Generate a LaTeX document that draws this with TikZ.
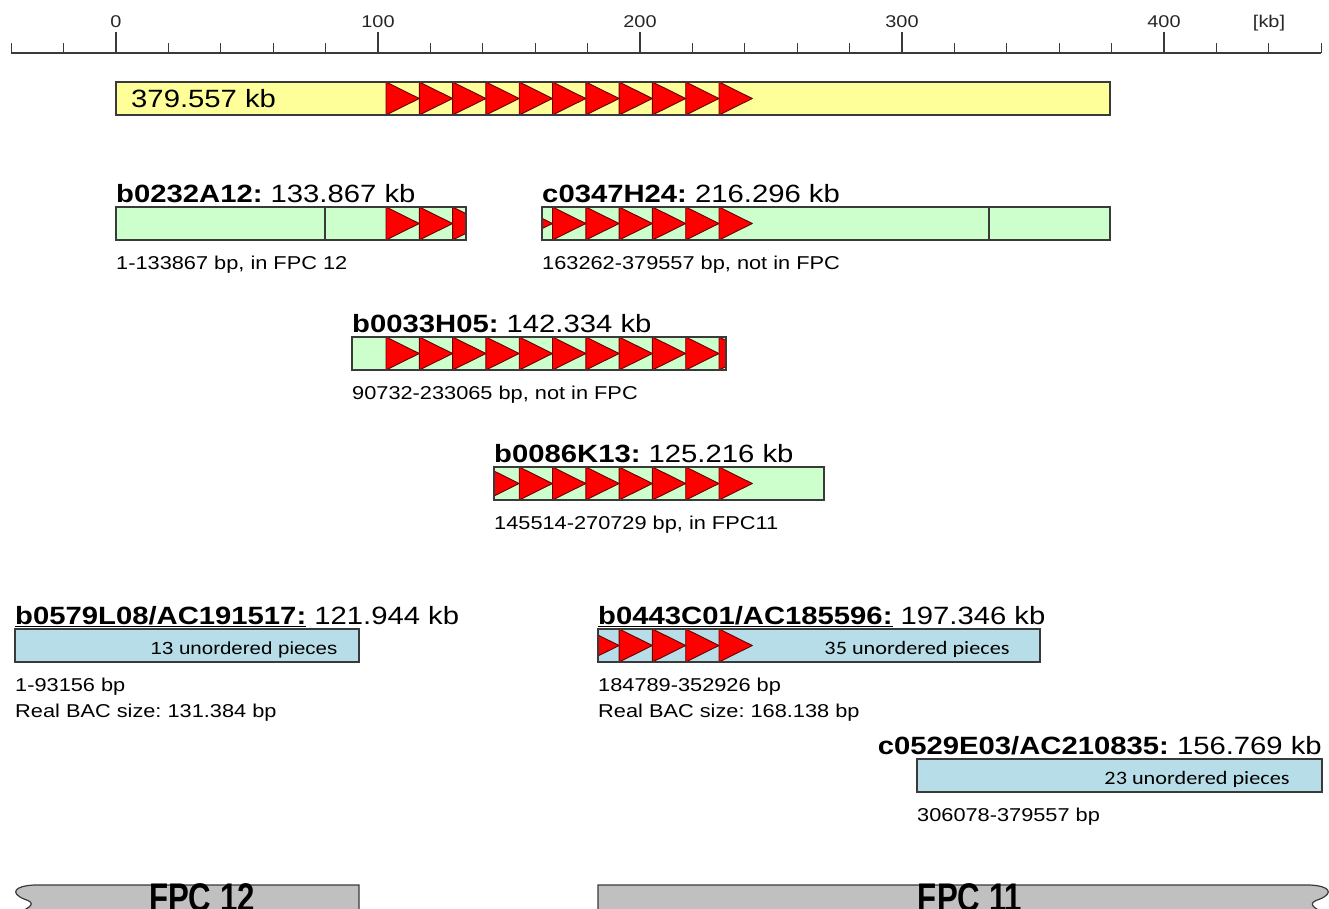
\documentclass[tikz,border=0pt]{standalone}
\usepackage{fontspec}
\setmainfont{Liberation Sans}
\newfontfamily\piecesfont{Carlito}
\usetikzlibrary{calc,positioning}
\definecolor{contigyellow}{HTML}{FFFF99}
\definecolor{bacgreen}{HTML}{CCFFCC}
\definecolor{seqblue}{HTML}{B7DEE8}
\definecolor{fpcgrey}{HTML}{C0C0C0}
\definecolor{edgegrey}{HTML}{3A3A3A}
\definecolor{repred}{HTML}{FF0000}
\frenchspacing

\tikzset{
  x=1pt, y=-1pt,
  barbox/.style={minimum height=33pt, inner sep=0pt, outer sep=0pt},
  barline/.style={draw=edgegrey, line width=1.2pt},
  repunit/.style={fill=repred, draw=black!60!red, line width=0.9pt, line join=round},
  ruletick/.style={draw=edgegrey, line width=1.2pt},
  rulelabel/.style={anchor=base, inner sep=0pt, xscale=1.17, text=black!85, font=\fontsize{17}{20}\selectfont},
  clonelabel/.style={anchor=base west, inner sep=0pt, xscale=1.17, font=\fontsize{25}{30}\selectfont},
  clonenote/.style={anchor=base west, inner sep=0pt, xscale=1.17, font=\fontsize{18.6}{22}\selectfont},
  piecesnote/.style={anchor=base, inner sep=0pt, xscale=1.17, font=\fontsize{17.5}{21}\selectfont},
  fpcbar/.style={fill=fpcgrey, draw=edgegrey, line width=1.2pt},
  fpclabel/.style={anchor=base, inner sep=0pt, xscale=0.78, font=\bfseries\fontsize{40}{48}\selectfont},
}

% one clone: bar, copies of the repeat, outline
\newcommand{\clonebar}[5]{%
  \node[barbox, fill=#5, minimum width={#3-#2}, anchor=north west] (#1) at (#2,#4) {};
  \begin{scope}
    \clip (#1.south west) rectangle (#1.north east);
    \foreach \k in {0,...,10}
      \draw[repunit] ({386+33.3*\k},#4) -- ++(33.3,16.5) -- ++(-33.3,16.5) -- cycle;
  \end{scope}
  \draw[barline] (#1.south west) rectangle (#1.north east);
}

\begin{document}
\begin{tikzpicture}
  \useasboundingbox (0,0) rectangle (1329,908);

  % ruler in kb
  \draw[ruletick] (11,53) -- (1321,53);
  \foreach \t in {-40,-20,...,460}
    \draw[ruletick] ({116+2.62*\t},53) -- ++(0,-10);
  \foreach \t in {0,100,...,400} {
    \draw[ruletick] ({116+2.62*\t},53) -- ++(0,-21);
    \node[rulelabel] (tick\t) at ({116+2.62*\t},27) {\t};
  }
  \node[rulelabel] (unit) at (1269,27) {[kb]};

  % assembled region
  \clonebar{region}{116}{1110}{82}{contigyellow}
  \node[clonelabel] (regionlab) at (131,107) {379.557 kb};

  % BAC clones
  \clonebar{b0232}{116}{466}{207}{bacgreen}
  \draw[barline] (325,0 |- b0232.north) -- (325,0 |- b0232.south);
  \node[clonelabel] (b0232lab) at (116,202) {\textbf{b0232A12:} 133.867 kb};
  \node[clonenote] (b0232note) at (116,269) {1-133867 bp, in FPC 12};

  \clonebar{c0347}{542}{1110}{207}{bacgreen}
  \draw[barline] (989,0 |- c0347.north) -- (989,0 |- c0347.south);
  \node[clonelabel] (c0347lab) at (542,202) {\textbf{c0347H24:} 216.296 kb};
  \node[clonenote] (c0347note) at (542,269) {163262-379557 bp, not in FPC};

  \clonebar{b0033}{352}{726}{337}{bacgreen}
  \node[clonelabel] (b0033lab) at (352,332) {\textbf{b0033H05:} 142.334 kb};
  \node[clonenote] (b0033note) at (352,399) {90732-233065 bp, not in FPC};

  \clonebar{b0086}{494}{824}{467}{bacgreen}
  \node[clonelabel] (b0086lab) at (494,462) {\textbf{b0086K13:} 125.216 kb};
  \node[clonenote] (b0086note) at (494,529) {145514-270729 bp, in FPC11};

  % sequenced clones
  \clonebar{b0579}{15}{359}{629}{seqblue}
  \node[piecesnote] (b0579pcs) at (244,654) {13 unordered pieces};
  \node[clonelabel] (b0579lab) at (15,624) {\underline{\textbf{b0579L08/AC191517:}} 121.944 kb};
  \node[clonenote] (b0579note) at (15,691) {1-93156 bp};
  \node[clonenote] (b0579size) at (15,717) {Real BAC size: 131.384 bp};

  \clonebar{b0443}{598}{1040}{629}{seqblue}
  \node[piecesnote, font=\piecesfont\fontsize{19}{22}\selectfont] (b0443pcs) at (917,654) {35 unordered pieces};
  \node[clonelabel] (b0443lab) at (598,624) {\underline{\textbf{b0443C01/AC185596:}} 197.346 kb};
  \node[clonenote] (b0443note) at (598,691) {184789-352926 bp};
  \node[clonenote] (b0443size) at (598,717) {Real BAC size: 168.138 bp};

  \clonebar{c0529}{917}{1322}{759}{seqblue}
  \node[piecesnote, font=\piecesfont\fontsize{19}{22}\selectfont] (c0529pcs) at (1197,784) {23 unordered pieces};
  \node[clonelabel, anchor=base east] (c0529lab) at (1322,754) {\textbf{c0529E03/AC210835:} 156.769 kb};
  \node[clonenote] (c0529note) at (917,821) {306078-379557 bp};

  % FPC contigs
  \draw[fpcbar] (359,915) -- (359,885) -- (34,885)
    .. controls (14,886) and (10,893) .. (24,899)
    .. controls (37,903) and (31,907) .. (18,913) -- cycle;
  \node[fpclabel] (fpc12) at (202,911) {FPC 12};

  \draw[fpcbar] (598,915) -- (598,885) -- (1310,885)
    .. controls (1330,886) and (1334,893) .. (1320,899)
    .. controls (1307,903) and (1312,907) .. (1324,913) -- cycle;
  \node[fpclabel] (fpc11) at (970,911) {FPC 11};
\end{tikzpicture}
\end{document}
